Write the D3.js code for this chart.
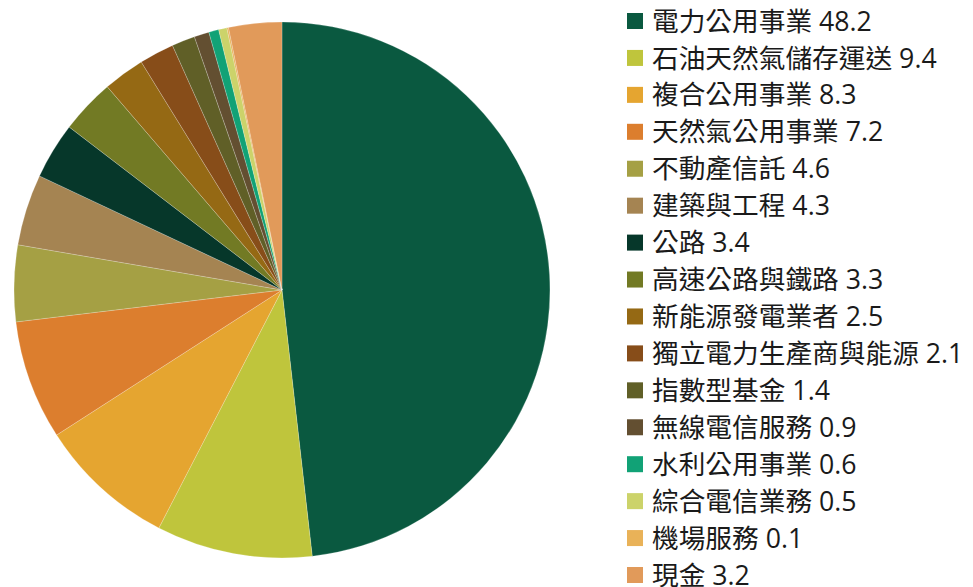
<!DOCTYPE html>
<html><head><meta charset="utf-8">
<script src="https://cdn.jsdelivr.net/npm/d3@7"></script>
<style>body{margin:0;background:#fff}</style>
</head><body>
<svg id="c" width="973" height="587"></svg>
<script>
const categories = ["電力公用事業","石油天然氣儲存運送","複合公用事業","天然氣公用事業","不動產信託","建築與工程","公路","高速公路與鐵路","新能源發電業者","獨立電力生產商與能源","指數型基金","無線電信服務","水利公用事業","綜合電信業務","機場服務","現金"];
const values = [48.2,9.4,8.3,7.2,4.6,4.3,3.4,3.3,2.5,2.1,1.4,0.9,0.6,0.5,0.1,3.2];
const colors = ["#0a5940","#bfc53c","#e5a530","#dc7e2e","#a5a044","#a58452","#06372a","#727a24","#956914","#874d19","#605f27","#634f31","#11a276","#ccd36a","#e9b258","#e19a5a"];

const data = categories.map((c,i)=>({name:c,value:values[i],color:colors[i]}));
const svg = d3.select("#c");
const cx = 282, cy = 290, r = 268;
const pie = d3.pie().sort(null).value(d=>d.value);
const arc = d3.arc().innerRadius(0).outerRadius(r);
svg.append("g").attr("transform",`translate(${cx},${cy})`)
  .selectAll("path").data(pie(data)).join("path")
  .attr("d",arc).attr("fill",d=>d.data.color)
  .attr("stroke","rgba(255,255,255,0.35)").attr("stroke-width",0.6);

const y = d3.scalePoint().domain(categories).range([21,575]);
const lg = svg.append("g");
const rows = lg.selectAll("g").data(data).join("g")
  .attr("transform",d=>`translate(627,${y(d.name)})`);
rows.append("rect").attr("x",0).attr("y",-8).attr("width",16).attr("height",16).attr("fill",d=>d.color);
rows.append("text").attr("x",25).attr("y",0).attr("dy","0.36em")
  .attr("font-family","'Open Sans','Noto Sans CJK TC',sans-serif").attr("font-size",26.7)
  .attr("fill","#1a1a1a").text(d=>d.name+" "+d.value);
</script>
</body></html>
